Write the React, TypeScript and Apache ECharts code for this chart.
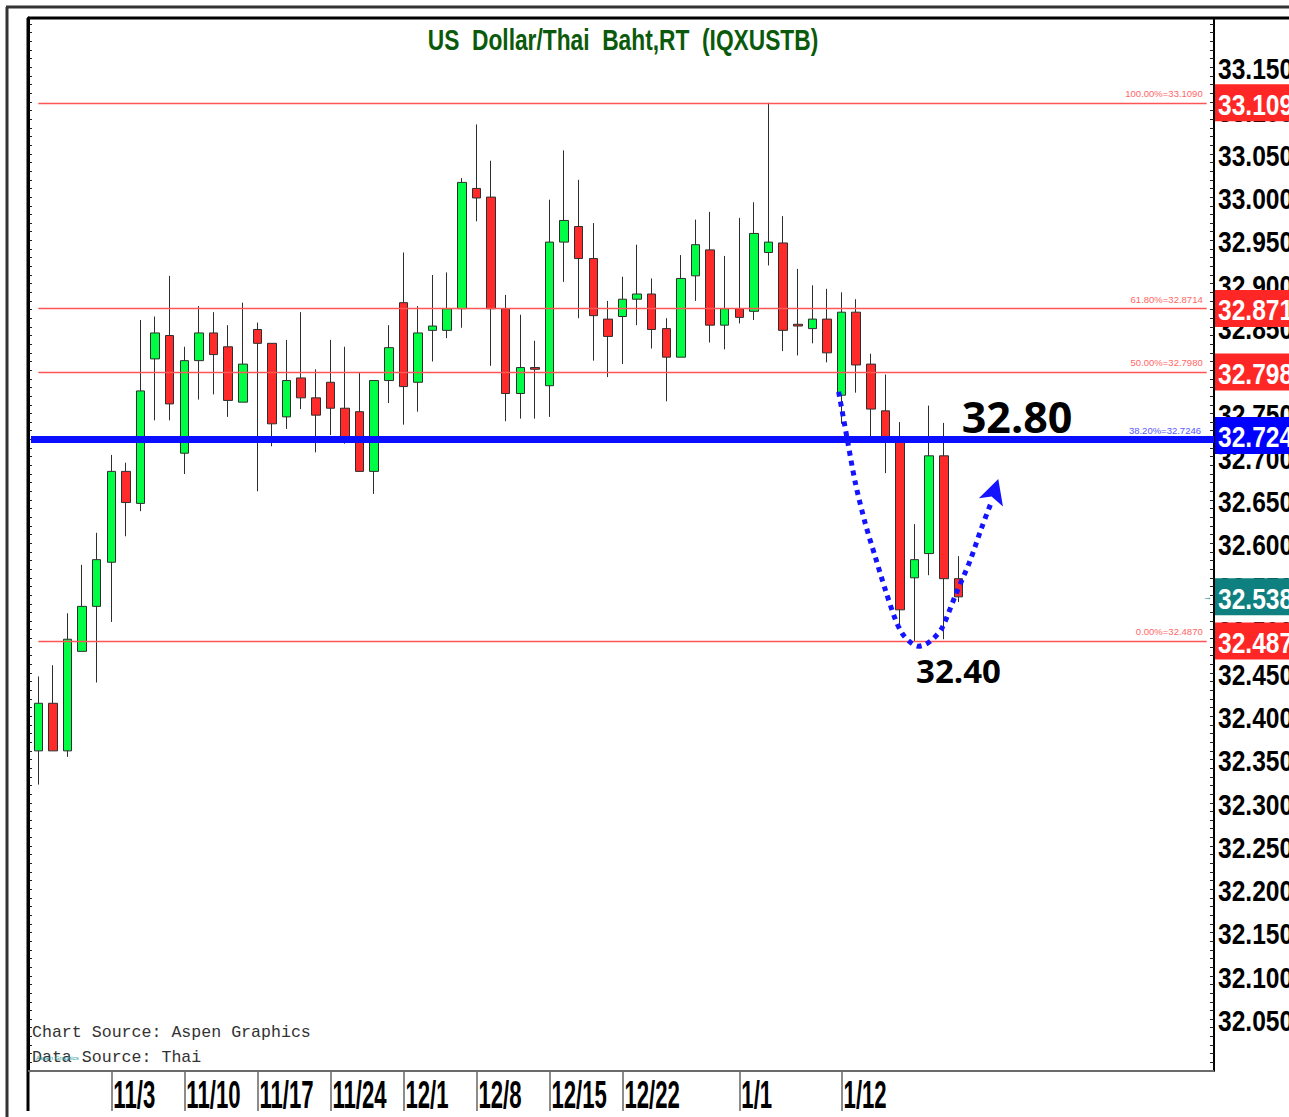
import React, { useEffect, useRef } from "react";
import * as echarts from "echarts";

// ---- categories (trading days) ----
const DATES = [
  "10/27", "10/28", "10/29", "10/30", "10/31",
  "11/3", "11/4", "11/5", "11/6", "11/7",
  "11/10", "11/11", "11/12", "11/13", "11/14",
  "11/17", "11/18", "11/19", "11/20", "11/21",
  "11/24", "11/25", "11/26", "11/27", "11/28",
  "12/1", "12/2", "12/3", "12/4", "12/5",
  "12/8", "12/9", "12/10", "12/11", "12/12",
  "12/15", "12/16", "12/17", "12/18", "12/19",
  "12/22", "12/23", "12/24", "12/25", "12/26",
  "12/29", "12/30", "12/31", "1/1", "1/2",
  "1/5", "1/6", "1/7", "1/8", "1/9",
  "1/12", "1/13", "1/14", "1/15", "1/16",
  "1/19", "1/20", "1/21", "1/22",
];
// empty future slots on the right of the chart
const FUTURE = [
  "1/23", "1/26", "1/27", "1/28", "1/29", "1/30",
  "2/2", "2/3", "2/4", "2/5", "2/6",
  "2/9", "2/10", "2/11", "2/12", "2/13", "2/16",
];

// ---- candle values: [open, close, low, high] ----
const OHLC: number[][] = [
  [32.360, 32.415, 32.321, 32.446],
  [32.415, 32.360, 32.360, 32.459],
  [32.360, 32.489, 32.353, 32.519],
  [32.475, 32.527, 32.475, 32.575],
  [32.527, 32.581, 32.439, 32.612],
  [32.578, 32.683, 32.509, 32.702],
  [32.683, 32.647, 32.608, 32.693],
  [32.646, 32.776, 32.637, 32.858],
  [32.813, 32.843, 32.742, 32.862],
  [32.840, 32.761, 32.742, 32.909],
  [32.704, 32.811, 32.680, 32.827],
  [32.811, 32.843, 32.766, 32.874],
  [32.843, 32.818, 32.772, 32.867],
  [32.827, 32.765, 32.746, 32.852],
  [32.763, 32.807, 32.763, 32.878],
  [32.847, 32.831, 32.660, 32.855],
  [32.831, 32.738, 32.712, 32.831],
  [32.746, 32.788, 32.732, 32.835],
  [32.791, 32.768, 32.755, 32.867],
  [32.768, 32.748, 32.705, 32.801],
  [32.786, 32.756, 32.725, 32.835],
  [32.756, 32.723, 32.715, 32.827],
  [32.752, 32.683, 32.683, 32.797],
  [32.683, 32.788, 32.657, 32.788],
  [32.788, 32.826, 32.762, 32.852],
  [32.878, 32.781, 32.737, 32.936],
  [32.786, 32.843, 32.752, 32.874],
  [32.846, 32.851, 32.810, 32.910],
  [32.846, 32.871, 32.837, 32.913],
  [32.871, 33.017, 32.849, 33.022],
  [33.010, 32.999, 32.972, 33.084],
  [33.000, 32.871, 32.805, 33.042],
  [32.871, 32.773, 32.741, 32.887],
  [32.773, 32.803, 32.744, 32.864],
  [32.803, 32.801, 32.744, 32.834],
  [32.782, 32.948, 32.746, 32.997],
  [32.948, 32.973, 32.902, 33.054],
  [32.966, 32.929, 32.860, 33.020],
  [32.929, 32.863, 32.811, 32.970],
  [32.859, 32.839, 32.792, 32.880],
  [32.862, 32.882, 32.807, 32.908],
  [32.882, 32.888, 32.852, 32.945],
  [32.888, 32.847, 32.825, 32.906],
  [32.848, 32.815, 32.764, 32.860],
  [32.815, 32.906, 32.815, 32.933],
  [32.909, 32.945, 32.880, 32.974],
  [32.939, 32.852, 32.832, 32.983],
  [32.852, 32.871, 32.824, 32.932],
  [32.871, 32.861, 32.854, 32.976],
  [32.868, 32.958, 32.858, 32.994],
  [32.936, 32.948, 32.921, 33.109],
  [32.947, 32.846, 32.822, 32.978],
  [32.853, 32.851, 32.817, 32.917],
  [32.848, 32.859, 32.831, 32.898],
  [32.859, 32.820, 32.809, 32.894],
  [32.771, 32.867, 32.738, 32.890],
  [32.867, 32.806, 32.774, 32.882],
  [32.807, 32.755, 32.716, 32.819],
  [32.753, 32.720, 32.681, 32.795],
  [32.722, 32.523, 32.504, 32.740],
  [32.560, 32.581, 32.487, 32.622],
  [32.588, 32.701, 32.563, 32.759],
  [32.701, 32.559, 32.489, 32.739],
  [32.559, 32.538, 32.532, 32.585],
];

// ---- tick labels ----
const X_TICKS = ["11/3", "11/10", "11/17", "11/24", "12/1", "12/8", "12/15", "12/22", "1/1", "1/12"];
const Y_TICKS = [
  "32.0500", "32.1000", "32.1500", "32.2000", "32.2500", "32.3000", "32.3500", "32.4000",
  "32.4500", "32.5000", "32.5500", "32.6000", "32.6500", "32.7000", "32.7500", "32.8000",
  "32.8500", "32.9000", "32.9500", "33.0000", "33.0500", "33.1000", "33.1500",
];

// ---- Fibonacci levels ----
const FIB_LEVELS = [33.109, 32.8714, 32.798, 32.7246, 32.487];
const FIB_LABELS = ["100.00%=33.1090", "61.80%=32.8714", "50.00%=32.7980", "38.20%=32.7246", "0.00%=32.4870"];
const FIB_BOX_TEXT = ["33.1090", "32.8714", "32.7980", "32.7246", "32.4870"];
const LAST_PRICE = 32.538;
const LAST_PRICE_TEXT = "32.5380";

// ---- annotations (category index, price) ----
const TARGET_TEXT = "32.80";
const TARGET_AT = [63.23, 32.747];
const LOW_TEXT = "32.40";
const LOW_AT = [60.1, 32.4527];
const CURVE = [
  [54.8, 32.775], [55.37, 32.722], [55.94, 32.67], [56.62, 32.623], [57.31, 32.584],
  [58.0, 32.546], [58.68, 32.512], [59.14, 32.496], [59.6, 32.487], [60.17, 32.481],
  [60.74, 32.483], [61.3, 32.49], [61.88, 32.502], [62.8, 32.54], [63.78, 32.579],
  [64.57, 32.617], [65.2, 32.645],
];
const ARROW = [[65.73, 32.6743], [66.05, 32.6423], [65.27, 32.6539], [64.4, 32.652]];

const Y_MIN = 31.99;
const Y_MAX = 33.207;

export default function App() {
  const ref = useRef<HTMLDivElement>(null);

  useEffect(() => {
    document.body.style.margin = "0";
    const el = ref.current!;
    const chart = echarts.init(el, null, { renderer: "svg" });
    const cats = DATES.concat(FUTURE);
    const tickIdx = new Set(X_TICKS.map((t) => DATES.indexOf(t)));
    const lastIdx = cats.length - 1;

    const fibData: any[] = FIB_LEVELS.map((v, k) => {
      const isBlue = k === 3;
      const label = {
        show: true,
        position: "insideEndTop",
        formatter: FIB_LABELS[k],
        fontSize: 9.5,
        fontFamily: "Liberation Sans",
        color: isBlue ? "#5a5aff" : "#ff6666",
        distance: 4,
        padding: isBlue ? [0, 9, 0, 0] : 0,
      };
      const lineStyle = isBlue
        ? { color: "#0a10ff", width: 7, type: "solid" }
        : { color: "#ff5555", width: 1.3, type: "solid" };
      if (isBlue) return { yAxis: v, lineStyle, label };
      return [
        { coord: [0, v], lineStyle, label },
        { coord: [lastIdx, v], lineStyle, label },
      ];
    });

    const option: any = {
      animation: false,
      backgroundColor: "#ffffff",
      grid: { left: 31, right: 75, top: 18, bottom: 46 },
      xAxis: {
        type: "category",
        data: cats,
        boundaryGap: true,
        axisLine: { show: false },
        axisLabel: { show: false },
        axisTick: {
          show: true,
          alignWithLabel: true,
          interval: (i: number) => tickIdx.has(i),
          length: 40,
          lineStyle: { color: "#8c8c8c", width: 2 },
        },
        splitLine: { show: false },
      },
      yAxis: [
        {
          type: "value",
          position: "right",
          min: Y_MIN,
          max: Y_MAX,
          interval: 0.01,
          axisLine: { show: true, lineStyle: { color: "#000", width: 2 } },
          axisTick: { show: true, inside: true, length: 4, lineStyle: { color: "#222" } },
          axisLabel: { show: false },
          splitLine: { show: false },
        },
        {
          type: "value",
          position: "left",
          offset: 3,
          min: Y_MIN,
          max: Y_MAX,
          interval: 0.01,
          axisLine: { show: true, lineStyle: { color: "#000", width: 3 } },
          axisTick: { show: true, inside: true, length: 4, lineStyle: { color: "#222" } },
          axisLabel: { show: false },
          splitLine: { show: false },
        },
      ],
      series: [
        {
          type: "candlestick",
          data: OHLC,
          barWidth: 9,
          itemStyle: {
            color: "#00ff44",
            color0: "#ff2a2a",
            borderColor: "#2e2e2e",
            borderColor0: "#2e2e2e",
            borderWidth: 1,
          },
          markLine: {
            silent: true,
            symbol: ["none", "none"],
            lineStyle: { type: "solid" },
            data: fibData,
          },
        },
      ],
    };
    chart.setOption(option);

    const x0 = chart.convertToPixel({ xAxisIndex: 0 }, 0) as number;
    const x1 = chart.convertToPixel({ xAxisIndex: 0 }, 1) as number;
    const band = x1 - x0;
    const xp = (i: number) => x0 + band * i;
    const yp = (v: number) => chart.convertToPixel({ yAxisIndex: 0 }, v) as number;

    const narrow = (size: number) => `bold ${size}px "Liberation Sans", Arial, sans-serif`;
    const g: any[] = [];

    // frames
    const frame = (x1_: number, y1_: number, x2_: number, y2_: number, stroke: string, w: number) =>
      g.push({ type: "line", shape: { x1: x1_, y1: y1_, x2: x2_, y2: y2_ }, style: { stroke, lineWidth: w }, z: 5 });
    frame(6, 7, 1289, 7, "#333", 3);
    frame(7, 7, 7, 1117, "#333", 3);
    frame(28, 18, 1289, 18, "#000", 3);
    frame(28, 18, 28, 1111, "#000", 3);
    frame(28, 1071, 1214, 1071, "#6a6a6a", 2);

    // title
    g.push({
      type: "text", x: 623, y: 40, scaleX: 0.785, z: 10,
      style: {
        text: "US  Dollar/Thai  Baht,RT  (IQXUSTB)",
        font: narrow(29), fill: "#0b5a0b", textAlign: "center", textVerticalAlign: "middle",
      },
    });

    // y tick labels (right)
    Y_TICKS.forEach((t) => {
      g.push({
        type: "text", x: 1218, y: yp(parseFloat(t)) + 1.5, scaleX: 0.82, z: 10,
        style: { text: t, font: narrow(30), fill: "#000", textAlign: "left", textVerticalAlign: "middle" },
      });
    });

    // level boxes
    const boxes = FIB_LEVELS.map((v, k) => ({
      v, text: FIB_BOX_TEXT[k], color: k === 3 ? "#0000ff" : "#ff2626",
    }));
    boxes.push({ v: LAST_PRICE, text: LAST_PRICE_TEXT, color: "#0f8080" });
    boxes.forEach((b) => {
      const y = yp(b.v);
      g.push({ type: "rect", shape: { x: 1215, y: y - 18.5, width: 80, height: 37 }, style: { fill: b.color }, z: 20 });
      g.push({
        type: "text", x: 1218, y: y + 1.5, scaleX: 0.82, z: 21,
        style: { text: b.text, font: narrow(30), fill: "#ffffff", textAlign: "left", textVerticalAlign: "middle" },
      });
    });
    g.push({
      type: "text", x: 1203, y: yp(LAST_PRICE), z: 21,
      style: { text: "→", font: "9px sans-serif", fill: "#0f8080", textAlign: "left", textVerticalAlign: "middle" },
    });

    // x tick labels
    X_TICKS.forEach((t) => {
      const i = DATES.indexOf(t);
      g.push({
        type: "text", x: xp(i) + 2, y: 1094.5, scaleX: 0.82, scaleY: 1.45, z: 10,
        style: { text: t, font: narrow(27), fill: "#000", textAlign: "left", textVerticalAlign: "middle" },
      });
    });

    // sources
    g.push({
      type: "text", x: 32, y: 1032, z: 10,
      style: { text: "Chart Source: Aspen Graphics", font: '16.6px "Liberation Mono", monospace', fill: "#333", textAlign: "left", textVerticalAlign: "middle" },
    });
    g.push({
      type: "text", x: 32, y: 1057, z: 10,
      style: { text: "Data Source: Thai", font: '16.6px "Liberation Mono", monospace', fill: "#333", textAlign: "left", textVerticalAlign: "middle" },
    });
    g.push({
      type: "text", x: 36, y: 1058, z: 11,
      style: { text: "Aspen Graphics", font: "6px sans-serif", fill: "#2a9a9a", textAlign: "left", textVerticalAlign: "middle" },
    });

    // annotations
    g.push({
      type: "polyline", z: 50,
      shape: { points: CURVE.map(([i, v]) => [xp(i), yp(v)]), smooth: 0.3 },
      style: { stroke: "#1414ff", lineWidth: 5, lineDash: [5, 5], fill: null },
    });
    g.push({
      type: "polygon", z: 50,
      shape: { points: ARROW.map(([i, v]) => [xp(i), yp(v)]) },
      style: { fill: "#1414ff" },
    });
    g.push({
      type: "text", x: xp(TARGET_AT[0]), y: yp(TARGET_AT[1]), z: 50,
      style: { text: TARGET_TEXT, font: 'bold 43px "Open Sans", sans-serif', fill: "#000", textAlign: "left", textVerticalAlign: "middle" },
    });
    g.push({
      type: "text", x: xp(LOW_AT[0]), y: yp(LOW_AT[1]), z: 50,
      style: { text: LOW_TEXT, font: 'bold 33px "Open Sans", sans-serif', fill: "#000", textAlign: "left", textVerticalAlign: "middle" },
    });

    chart.setOption({ graphic: g });

    return () => chart.dispose();
  }, []);

  return <div ref={ref} style={{ width: 1289, height: 1117 }} />;
}
